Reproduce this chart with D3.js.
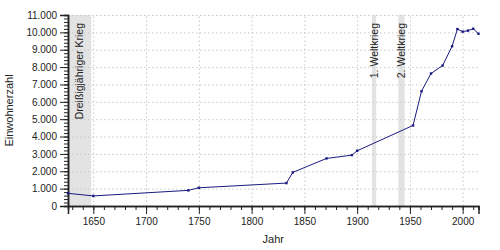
<html>
<head>
    <meta charset="UTF-8">
    <title>Einwohnerentwicklung</title>
    <script src="https://d3js.org/d3.v7.min.js"></script>
    <style>
        body { margin: 0; background: #fff; }
        svg { font-family: "Liberation Sans", Arial, sans-serif; }
        .axis text { font-size: 10px; fill: #222; }
        .axis path, .axis line { stroke: #222; }
        .grid line { stroke: #c8c8c8; stroke-dasharray: 1.5,2.5; }
        .grid path { stroke: none; }
        .title { font-size: 11px; fill: #222; }
        .band-label { font-size: 10.5px; fill: #222; }
    </style>
</head>
<body>
    <svg width="500" height="250"></svg>
    <script>
        var years = [1626, 1650, 1740, 1750, 1833, 1839, 1871, 1895, 1900, 1953, 1961, 1970, 1981, 1990, 1995, 2000, 2005, 2010, 2015];
        var population = [730, 580, 900, 1050, 1320, 1935, 2740, 2930, 3180, 4640, 6610, 7630, 8090, 9200, 10190, 10040, 10100, 10210, 9920];

        var bandNames = ['Dreißigjähriger Krieg', '1. Weltkrieg', '2. Weltkrieg'];
        var bandStart = [1618, 1914, 1939];
        var bandEnd = [1648, 1918, 1945];

        var xTicks = [1650, 1700, 1750, 1800, 1850, 1900, 1950, 2000];
        var yTicks = d3.range(0, 11001, 1000);

        var margin = { top : 15, right : 21.5, left : 68, bottom : 44 },
            svg = d3.select('svg'),
            width = +svg.attr('width') - margin.left - margin.right,
            height = +svg.attr('height') - margin.top - margin.bottom,
            g = svg.append('g').attr('transform', 'translate(' + margin.left + ',' + margin.top + ')');

        var de = d3.formatLocale({ decimal: ',', thousands: '.', grouping: [3], currency: ['', ' €'] });

        var x = d3.scaleLinear().domain([years[0], years[years.length - 1]]).range([0, width]);
        var y = d3.scaleLinear().domain([0, 11000]).range([height, 0]);

        // Kriegszeiten (auf den Achsenbereich begrenzt)
        var bands = bandNames.map((n, i) => ({ name: n, start: Math.max(bandStart[i], x.domain()[0]), end: bandEnd[i] }));

        g.selectAll('.band')
            .data(bands)
            .enter().append('rect')
            .attr('class', 'band')
            .attr('x', d => x(d.start))
            .attr('y', 0)
            .attr('width', d => x(d.end) - x(d.start))
            .attr('height', height)
            .attr('fill', '#e3e3e3');

        // Gitter
        g.append('g')
            .attr('class', 'grid')
            .attr('transform', 'translate(0,' + height + ')')
            .call(d3.axisBottom(x).tickValues(xTicks).tickSize(-height).tickFormat(''));

        g.append('g')
            .attr('class', 'grid')
            .call(d3.axisLeft(y).tickValues(yTicks.slice(1)).tickSize(-width).tickFormat(''));

        g.selectAll('.band-label')
            .data(bands)
            .enter().append('text')
            .attr('class', 'band-label')
            .attr('transform', d => 'translate(' + (x(d.start) + x(d.end)) / 2 + ',8) rotate(-90)')
            .attr('dy', '0.35em')
            .attr('text-anchor', 'end')
            .text(d => d.name);

        // Achsen
        g.append('g')
            .attr('class', 'axis axis-x-minor')
            .attr('transform', 'translate(0,' + height + ')')
            .call(d3.axisBottom(x).tickValues(d3.range(1630, 2015, 10)).tickSize(4).tickFormat(''));

        g.append('g')
            .attr('class', 'axis axis-x')
            .attr('transform', 'translate(0,' + height + ')')
            .call(d3.axisBottom(x).tickValues(xTicks).tickSize(8).tickPadding(4).tickFormat(d3.format('d')));

        g.append('g')
            .attr('class', 'axis axis-y-minor')
            .call(d3.axisLeft(y).tickValues(d3.range(0, 11001, 200)).tickSize(4).tickFormat(''));

        g.append('g')
            .attr('class', 'axis axis-y')
            .call(d3.axisLeft(y).tickValues(yTicks).tickSize(8).tickPadding(3).tickFormat(de.format(',d')));

        g.selectAll('.axis .domain').attr('stroke-width', 1.5);

        // Kurve
        var data = years.map((yr, i) => ({ year: yr, value: population[i] }));

        g.append('path')
            .datum(data)
            .attr('fill', 'none')
            .attr('stroke', '#1a1a80')
            .attr('stroke-width', 1)
            .attr('d', d3.line().x(d => x(d.year)).y(d => y(d.value)));

        g.selectAll('.pt')
            .data(data)
            .enter().append('rect')
            .attr('class', 'pt')
            .attr('x', d => x(d.year) - 1.2)
            .attr('y', d => y(d.value) - 1.2)
            .attr('width', 2.4)
            .attr('height', 2.4)
            .attr('fill', '#1a1a80');

        svg.append('text')
            .attr('class', 'title')
            .attr('transform', 'translate(13,' + (margin.top + height / 2) + ') rotate(-90)')
            .attr('text-anchor', 'middle')
            .text('Einwohnerzahl');

        svg.append('text')
            .attr('class', 'title')
            .attr('x', margin.left + width / 2)
            .attr('y', 243)
            .attr('text-anchor', 'middle')
            .text('Jahr');
    </script>
</body>
</html>
